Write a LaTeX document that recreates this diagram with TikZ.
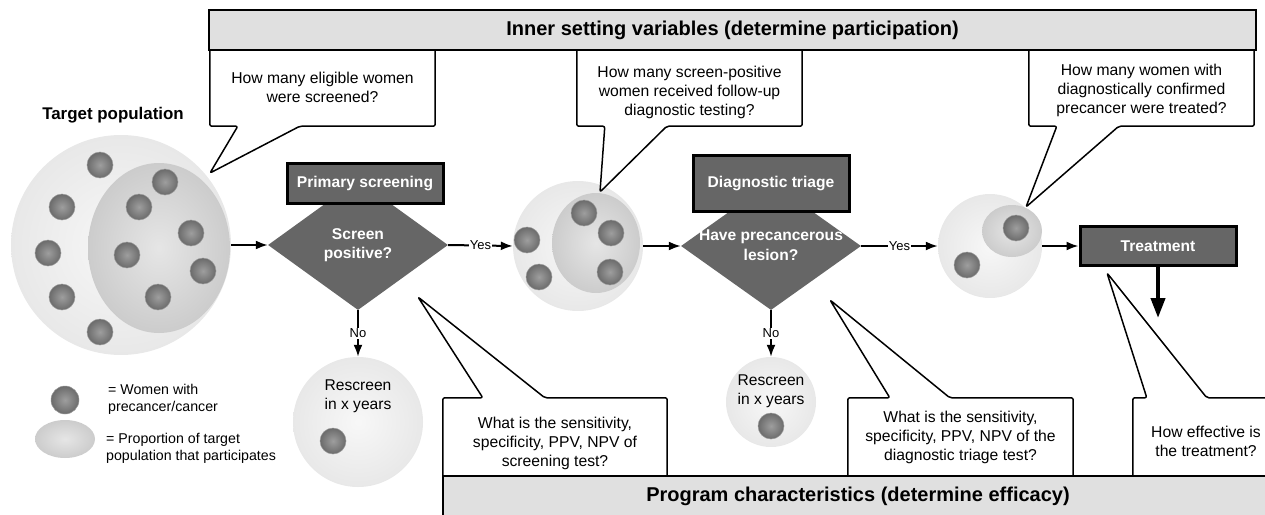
\documentclass[tikz,border=0pt]{standalone}
\usepackage{fontspec}
\setmainfont{Liberation Sans}
\usetikzlibrary{
    shapes.geometric,
    arrows.meta,
    positioning
}
\tikzset {
    banner/.style = {draw, line width = 2.5pt, fill = black!12, inner sep = 0pt,
        font = \bfseries\fontsize{20}{24}\selectfont},
    task/.style = {draw, line width = 3pt, fill = black!60, text = white, inner sep = 0pt,
        font = \bfseries\fontsize{15.6}{19}\selectfont},
    decision/.style = {diamond, fill = black!60, inner sep = 0pt,
        minimum width = 180pt, minimum height = 130pt},
    decision text/.style = {text = white, align = center, inner sep = 0pt,
        font = \bfseries\fontsize{15.6}{19.5}\selectfont},
    question/.style = {align = center, inner sep = 0pt,
        font = \fontsize{15.7}{19}\selectfont},
    callout/.style = {draw, fill = white, line width = 1.5pt,
        rounded corners = 2pt, line join = round},
    %
    group/.style = {circle, inner sep = 0pt, shade,
        inner color = black!3, outer color = black!9},
    part/.style = {ellipse, inner sep = 0pt, shade,
        inner color = black!10, outer color = black!20},
    case/.style = {circle, minimum size = 26pt, inner sep = 0pt, shade,
        inner color = black!38, outer color = black!58, draw = black!40, line width = 0.5pt},
    %
    flow/.style = {line width = 2pt, -{Latex[length = 12pt, width = 9pt]}},
    answer/.style = {fill = white, inner sep = 1pt, font = \fontsize{13}{15}\selectfont},
    note/.style = {align = left, inner sep = 0pt, font = \fontsize{14.2}{17}\selectfont},
    plain/.style = {align = center, inner sep = 0pt, font = \fontsize{15.6}{19}\selectfont}
}

\begin{document}
\begin{tikzpicture}[x = 1pt, y = -1pt]
    \useasboundingbox (0, 0) rectangle (1265, 514);
    \clip (0, 0) rectangle (1265, 514);

    % target population
    \node (title) [font = \bfseries\fontsize{16.9}{20}\selectfont] at (113, 115) {Target population};
    \node (c1) [group, minimum size = 220pt] at (121, 245) {};
    \node (p1) [part, minimum width = 142pt, minimum height = 170pt] at (159, 248) {};
    \foreach \x/\y [count = \i] in {100/165, 165/182, 62/207, 139/207, 191/233, 48/253,
            127/255, 203/271, 62/297, 158/297, 100/332}
        \node (a\i) [case] at (\x, \y) {};

    % screened
    \node (c2) [group, minimum size = 130pt] at (578, 246) {};
    \node (p2) [part, minimum width = 88pt, minimum height = 100pt] at (596, 243) {};
    \foreach \x/\y [count = \i] in {584/213, 611/233, 527/240, 539/277, 610/272}
        \node (b\i) [case] at (\x, \y) {};

    % confirmed
    \node (c3) [group, minimum size = 104pt] at (990, 246) {};
    \node (p3) [part, minimum width = 60pt, minimum height = 52pt] at (1012, 231) {};
    \node (e1) [case] at (1016, 228) {};
    \node (e2) [case] at (967, 265) {};

    % rescreen
    \node (r1) [group, minimum size = 130pt] at (358, 422) {};
    \node [plain] at (358, 396) {Rescreen\\in x years};
    \node (f1) [case] at (333, 441) {};
    \node (r2) [group, minimum size = 90pt] at (771, 402) {};
    \node [plain] at (771, 391) {Rescreen\\in x years};
    \node (f2) [case] at (771, 426) {};

    % legend
    \node (k1) [case, minimum size = 28pt] at (65, 400) {};
    \node [note, anchor = west] at (108, 399) {= Women with\\precancer/cancer};
    \node (k2) [part, minimum width = 60pt, minimum height = 38pt] at (65, 439) {};
    \node [note, anchor = west] at (106, 448) {= Proportion of target\\population that participates};

    % steps
    \node (d1) [decision] at (358, 245) {};
    \node [decision text] at (d1) {Screen\\positive?};
    \node (s1) [task, minimum width = 156pt, minimum height = 40pt] at (365, 183) {Primary screening};
    \node (d2) [decision, minimum height = 128pt] at (771, 246) {};
    \node [decision text] at (771, 245) {Have precancerous\\lesion?};
    \node (s2) [task, minimum width = 156pt, minimum height = 56pt] at (771, 183) {Diagnostic triage};
    \node (s3) [task, minimum width = 156pt, minimum height = 39pt] at (1158, 246) {Treatment};
    \coordinate (end) at (1158, 318);

    \draw [flow] (c1.east) -- (d1.west);
    \draw [flow] (d1.east) -- node [answer] {Yes} (c2.west);
    \draw [flow] (c2.east) -- (d2.west);
    \draw [flow] (d2.east) -- node [answer] {Yes} (c3.west);
    \draw [flow] (c3.east) -- (s3.west);
    \draw [flow] (d1.south) -- node [answer] {No} (r1.north);
    \draw [flow] (d2.south) -- node [answer] {No} (r2.north);
    \draw [line width = 4pt, -{Triangle[length = 20pt, width = 14pt]}] (s3.south) -- (end);

    % questions on participation
    \node (q1) [question, minimum width = 225pt, minimum height = 77pt] at (322.5, 87.5) {};
    \node (q2) [question, minimum width = 225pt, minimum height = 77pt] at (689.5, 87.5) {};
    \node (q3) [question, minimum width = 225pt, minimum height = 77pt] at (1141.5, 87.5) {};
    \coordinate (t1) at (210, 173);
    \coordinate (t2) at (600, 192);
    \coordinate (t3) at (1026, 207);
    \foreach \q/\t in {q1/t1, q2/t2, q3/t3}
        \draw [callout] (\q.north west) -- (\q.south west) -- ([xshift = 28pt] \q.south west)
            -- (\t) -- ([xshift = 90pt] \q.south west) -- (\q.south east) -- (\q.north east);
    \node [question] at (322.5, 87) {How many eligible women\\were screened?};
    \node [question] at (689.5, 92) {How many screen-positive\\women received follow-up\\diagnostic testing?};
    \node [question] at (1141.5, 90) {How many women with\\diagnostically confirmed\\precancer were treated?};

    % questions on efficacy
    \node (q4) [question, minimum width = 224pt, minimum height = 78pt] at (555, 437) {};
    \node (q5) [question, minimum width = 225pt, minimum height = 78pt] at (960.5, 437) {};
    \node (q6) [question, minimum width = 147pt, minimum height = 78pt] at (1206.5, 437) {};
    \coordinate (t4) at (418, 297);
    \coordinate (t5) at (830, 300);
    \coordinate (t6) at (1107, 273);
    \draw [callout] (q4.south west) -- (q4.north west) -- ([xshift = 40pt] q4.north west)
        -- (t4) -- ([xshift = 102pt] q4.north west) -- (q4.north east) -- (q4.south east);
    \draw [callout] (q5.south west) -- (q5.north west) -- ([xshift = 42pt] q5.north west)
        -- (t5) -- ([xshift = 102pt] q5.north west) -- (q5.north east) -- (q5.south east);
    \draw [callout] (q6.south west) -- (q6.north west) -- ([xshift = 14pt] q6.north west)
        -- (t6) -- ([xshift = 74pt] q6.north west) -- (q6.north east) -- (q6.south east);
    \node [question] at (555, 443) {What is the sensitivity,\\specificity, PPV, NPV of\\screening test?};
    \node [question] at (960.5, 437) {What is the sensitivity,\\specificity, PPV, NPV of the\\diagnostic triage test?};
    \node [question] at (1206, 441) {How effective is\\the treatment?};

    % banners
    \node (inner) [banner, minimum width = 1047pt, minimum height = 40pt] at (732.5, 30)
        {Inner setting variables (determine participation)};
    \node (program) [banner, minimum width = 830pt, minimum height = 40pt] at (858, 496)
        {Program characteristics (determine efficacy)};
\end{tikzpicture}
\end{document}
